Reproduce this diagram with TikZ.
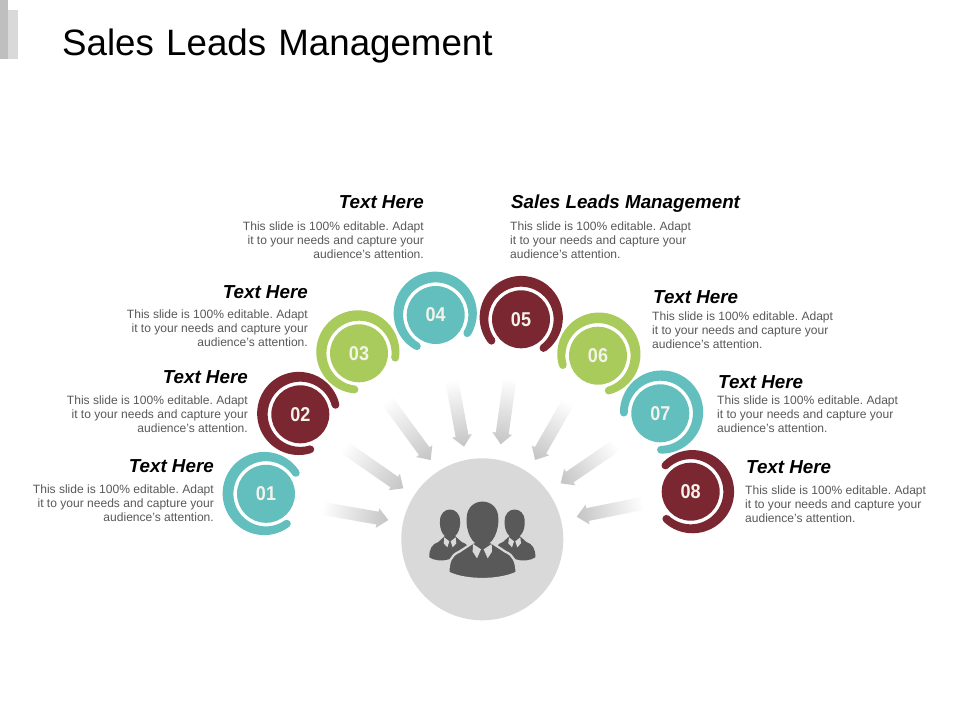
\documentclass[tikz,border=0pt]{standalone}
\usepackage{fontspec}
\setmainfont{Liberation Sans}
\newfontfamily\titlefont[WordSpace=1.2]{Liberation Sans}
\newfontfamily\numfont[FakeStretch=0.9]{Liberation Sans}
\usetikzlibrary{calc}
\definecolor{tealc}{HTML}{62BFBE}
\definecolor{maroonc}{HTML}{7B2731}
\definecolor{greenc}{HTML}{A9CB5B}
\definecolor{hubc}{HTML}{D9D9D9}
\definecolor{iconc}{HTML}{595959}
\definecolor{bodyc}{HTML}{595959}
\definecolor{barA}{HTML}{BFBFBF}
\definecolor{arrowc}{HTML}{C4C4C4}
\definecolor{numc}{HTML}{F3F3EA}
\tikzset{
  numdisc/.style={circle,inner sep=0pt,minimum size=#1,text=numc,font=\numfont\bfseries\fontsize{20}{20}\selectfont},
  headL/.style={anchor=east,inner sep=0pt,text=black,font=\bfseries\itshape\fontsize{18.8}{22}\selectfont},
  headR/.style={anchor=west,inner sep=0pt,text=black,font=\bfseries\itshape\fontsize{18.8}{22}\selectfont},
  copyL/.style={anchor=east,inner sep=0pt,align=right,text=bodyc,font=\fontsize{12.05}{14}\selectfont\frenchspacing},
  copyR/.style={anchor=west,inner sep=0pt,align=left,text=bodyc,font=\fontsize{12.05}{14}\selectfont\frenchspacing},
  iconfill/.style={fill=iconc,draw=none},
  collar/.style={fill=hubc,draw=none}
}
\newcommand\Ring[4]{% node, color, from, to (screen angles, ccw): tapered crescent
  \pgfmathsetmacro\ringM{(#3+#4)/2}%
  \pgfmathsetmacro\ringE{(41.6+1.8*cos((#4-#3)/2)-32.6)/2}%
  \fill[#2] ($(#1)+(-#3:32.6)$) arc[start angle=-#3,end angle=-#4,radius=32.6]
    -- ($(#1)+(-\ringM:1.8)+(-#4:41.6)$) arc[start angle=-#4,end angle=-#3,radius=41.6] -- cycle;
  \fill[#2] ($(#1)+(-\ringM:0.9)+(-#3:37.1)$) circle[radius=\ringE];
  \fill[#2] ($(#1)+(-\ringM:0.9)+(-#4:37.1)$) circle[radius=\ringE];
}
\newcommand\GradArrow[2]{%
  \pgfpointdiff{\pgfpointanchor{#1}{center}}{\pgfpointanchor{#2}{center}}%
  \pgfgetlastxy{\gaX}{\gaY}%
  \pgfmathsetmacro\gaAng{atan2(\gaY,\gaX)}%
  \pgfmathsetmacro\gaLen{veclen(\gaX,\gaY)}%
  \begin{scope}[transform canvas={shift={(#1)},rotate=\gaAng}]
    \shade[x=1pt,y=1pt,left color=white,right color=arrowc]
      (0,-6.5) -- (\gaLen-11,-6.5) -- (\gaLen-11,-10) -- (\gaLen,0) -- (\gaLen-11,10) -- (\gaLen-11,6.5) -- (0,6.5) -- cycle;
  \end{scope}
}
\newcommand\Copy{This slide is 100\% editable. Adapt\\it to your needs and capture your\\audience's attention.}
\begin{document}
\begin{tikzpicture}[x=1pt,y=-1pt]
\useasboundingbox (0,0) rectangle (960,720);
\fill[white] (0,0) rectangle (960,720);
% corner bars
\fill[hubc] (8,10) rectangle (18,59);
\fill[barA] (0,0) rectangle (8,59);
% title
\node[anchor=base west,inner sep=0pt,font=\titlefont\fontsize{36.7}{40}\selectfont,text=black] (title) at (62,55) {Sales Leads Management};

% hub
\node[circle,fill=hubc,minimum size=162pt,inner sep=0pt] (hub) at (482.3,539.3) {};
\begin{scope}[shift={(400,450)},x=0.3333pt,y=-0.3333pt]
  % side people
  \foreach \m in {1,-1}{
    \begin{scope}[shift={(247,0)},xscale=\m]
      \path[iconfill] (-127,213) .. controls (-127,167) and (-67,167) .. (-67,213)
        .. controls (-65,240) and (-78,264) .. (-97,264)
        .. controls (-116,264) and (-129,240) .. (-127,213) -- cycle;
      \path[iconfill] (-159,322) .. controls (-160,296) and (-150,282) .. (-132,276)
        -- (-112,258) -- (-82,258) -- (-62,276)
        .. controls (-45,282) and (-40,290) .. (-47,300)
        -- (-100,328) .. controls (-120,334) and (-145,332) .. (-159,322) -- cycle;
      \path[collar] (-114,262) -- (-99,274) -- (-105,292) -- (-116,280) -- cycle;
      \path[collar] (-80,262) -- (-95,274) -- (-89,292) -- (-78,280) -- cycle;
    \end{scope}
  }
  % centre person
  \path[fill=iconc,draw=hubc,line width=2.2pt,line join=round]
    (145,368) .. controls (146,335) and (152,316) .. (178,305)
    -- (222,276) -- (272,276) -- (316,305)
    .. controls (342,316) and (348,335) .. (350,368)
    .. controls (320,382) and (280,387) .. (247,387)
    .. controls (214,387) and (174,382) .. (145,368) -- cycle;
  \path[iconfill] (200,205) .. controls (200,138) and (295,138) .. (295,205)
    .. controls (297,240) and (280,287) .. (247,287)
    .. controls (214,287) and (197,240) .. (200,205) -- cycle;
  \path[collar] (219,282) -- (243,298) -- (231,325) -- (218,305) -- cycle;
  \path[collar] (275,282) -- (251,298) -- (263,325) -- (276,305) -- cycle;
\end{scope}

% arrow ends
\coordinate (t1) at (321.7,508.3); \coordinate (h1) at (388.3,520);
\coordinate (t2) at (343.3,446.7); \coordinate (h2) at (403.3,488.3);
\coordinate (t3) at (386.7,400);   \coordinate (h3) at (430.7,460);
\coordinate (t4) at (451.7,380);   \coordinate (h4) at (464,446.7);
\coordinate (t5) at (510,378.3);   \coordinate (h5) at (500.7,444.3);
\coordinate (t6) at (568.3,401.7); \coordinate (h6) at (535,460);
\coordinate (t7) at (616.7,445);   \coordinate (h7) at (560.7,483.3);
\coordinate (t8) at (643.3,503.3); \coordinate (h8) at (576.7,516.7);
\GradArrow{t1}{h1}
\GradArrow{t2}{h2}
\GradArrow{t3}{h3}
\GradArrow{t4}{h4}
\GradArrow{t5}{h5}
\GradArrow{t6}{h6}
\GradArrow{t7}{h7}
\GradArrow{t8}{h8}

% discs
\node[numdisc=58pt,fill=tealc] (n1) at (266,493.8) {01};
\node[numdisc=58pt,fill=maroonc] (n2) at (300.3,414.3) {02};
\node[numdisc=58pt,fill=greenc] (n3) at (359,353.3) {03};
\node[numdisc=58pt,fill=tealc] (n4) at (435.7,315) {04};
\node[numdisc=58pt,fill=maroonc] (n5) at (521,319.3) {05};
\node[numdisc=58pt,fill=greenc] (n6) at (598,355.7) {06};
\node[numdisc=58pt,fill=tealc] (n7) at (660.3,413.3) {07};
\node[numdisc=58pt,fill=maroonc] (n8) at (690.7,491.7) {08};
\Ring{n1}{tealc}{34}{306}
\Ring{n2}{maroonc}{14}{287}
\Ring{n3}{greenc}{-8}{264}
\Ring{n4}{tealc}{-31}{240}
\Ring{n5}{maroonc}{-53}{217}
\Ring{n6}{greenc}{-74}{196}
\Ring{n7}{tealc}{-90}{180}
\Ring{n8}{maroonc}{-133}{135}

% texts
\node[headL] (h04) at (424,202) {Text Here};
\node[copyL] (c04) at (424,240) {\Copy};
\node[headL] (h03) at (308,292) {Text Here};
\node[copyL] (c03) at (308,328) {\Copy};
\node[headL] (h02) at (248,377) {Text Here};
\node[copyL] (c02) at (248,414) {\Copy};
\node[headL] (h01) at (214,466) {Text Here};
\node[copyL] (c01) at (214,503) {\Copy};
\node[headR] (h05) at (511,204) {Sales Leads Management};
\node[copyR] (c05) at (510,240) {\Copy};
\node[headR] (h06) at (653,297) {Text Here};
\node[copyR] (c06) at (652,330) {\Copy};
\node[headR] (h07) at (718,382) {Text Here};
\node[copyR] (c07) at (717,414) {\Copy};
\node[headR] (h08) at (746,467) {Text Here};
\node[copyR] (c08) at (745,504) {\Copy};
\end{tikzpicture}
\end{document}
